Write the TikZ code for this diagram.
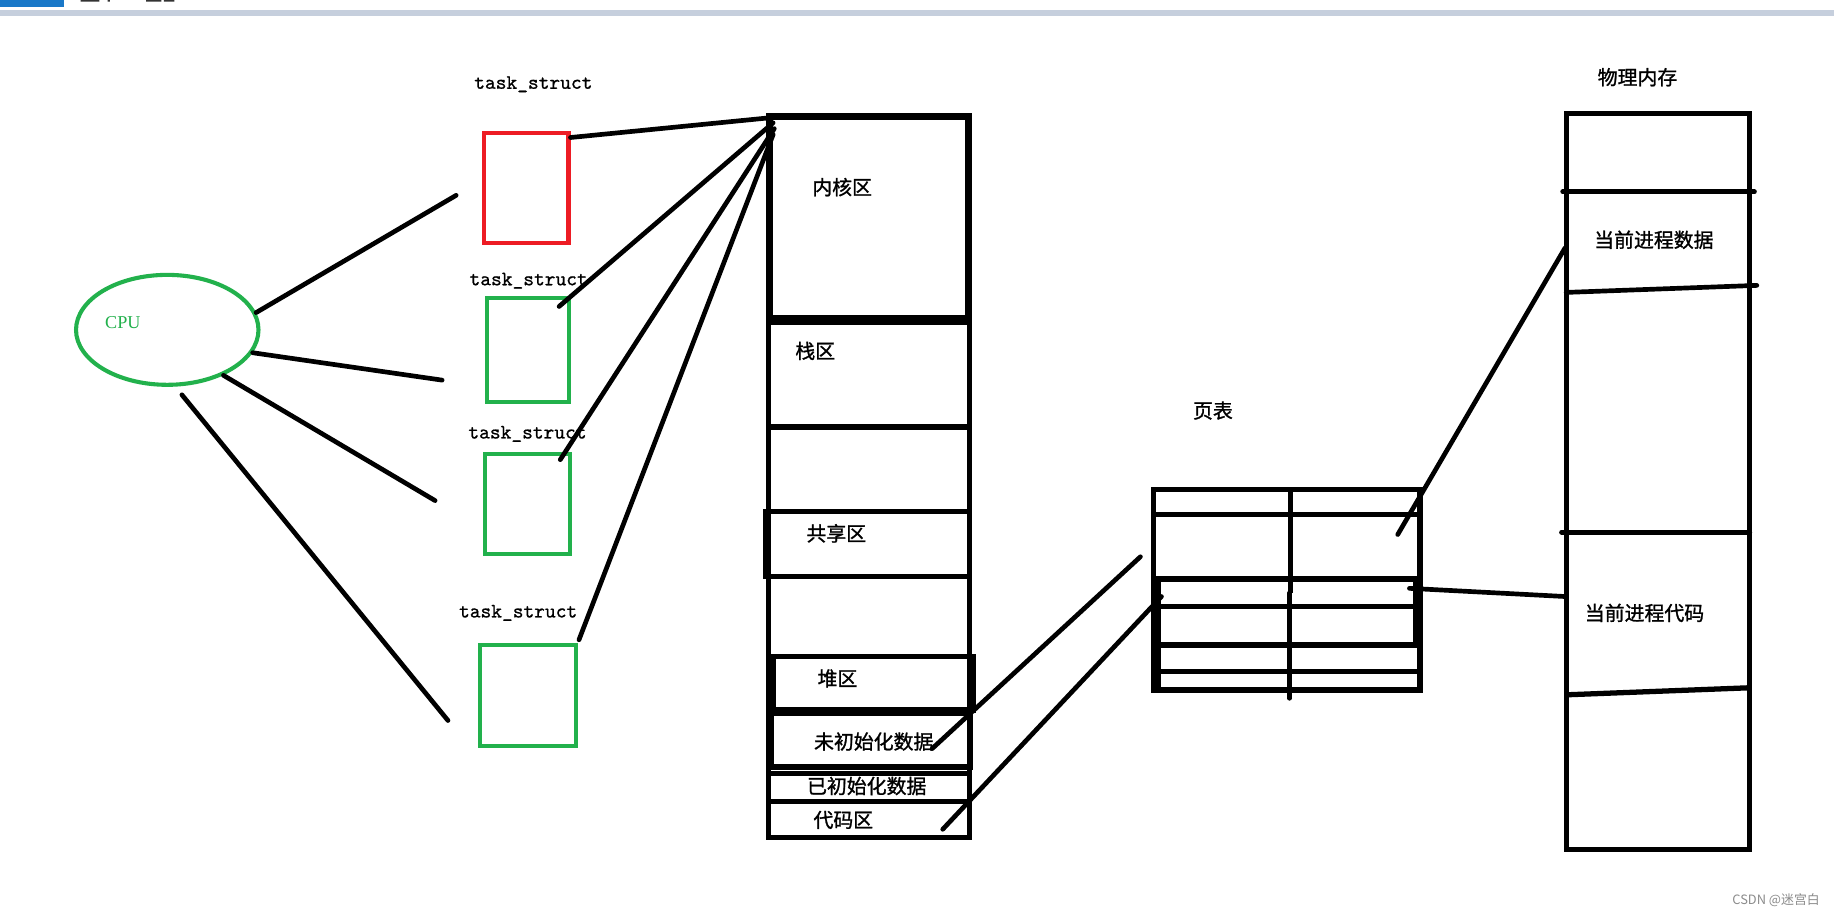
\documentclass[tikz,border=0pt]{standalone}
\usepackage{fontspec}
\usepackage{tikz}
\setmainfont{Liberation Serif}
\newfontfamily\cjk{Noto Sans CJK SC}
\newfontfamily\cjkheavy{Noto Sans CJK SC}[FakeBold=1.2]
\newfontfamily\tskfont{lmmono10-regular.otf}[FakeBold=0.8]
\usetikzlibrary{shapes.geometric}
\definecolor{paintgreen}{RGB}{34,177,76}
\definecolor{paintred}{RGB}{237,28,36}
\definecolor{topblue}{RGB}{26,120,200}
\definecolor{topgray}{RGB}{198,207,221}
\tikzset{>=stealth,
  stroke/.style={line width=4pt,line cap=round},
  wall/.style={line width=4.5pt},
  procbox/.style={draw=paintgreen,line width=3.5pt,inner sep=0pt},
  zh/.style={font=\cjkheavy\fontsize{17}{20}\selectfont,inner sep=0pt},
  tsk/.style={font=\tskfont\fontsize{17.5}{20}\selectfont,inner sep=0pt}}

\begin{document}
\begin{tikzpicture}[x=1pt,y=-1pt]
  \useasboundingbox (0,0) rectangle (1568,784);
  \fill[white] (0,0) rectangle (1568,784);
  % window bar
  \fill[topblue] (0,0) rectangle (55,6);
  \fill[topgray] (0,8.5) rectangle (1568,14);
  \fill[black!80] (69,0) rectangle (85,1.3) (92,0) rectangle (94,1.3)
    (125,0) rectangle (138,1.3) (140,0) rectangle (149,1.3);

  % cpu and the task_structs
  \node[ellipse,draw=paintgreen,line width=3.5pt,minimum width=156pt,minimum height=94pt,inner sep=0pt] (cpu) at (143,282) {};
  \node[text=paintgreen,font=\fontsize{15.5}{16}\selectfont,inner sep=0pt] (cpulbl) at (105,276) {CPU};
  \node[procbox,draw=paintred,minimum width=72pt,minimum height=94pt] (ts1) at (450,161) {};
  \node[procbox,minimum width=70pt,minimum height=89pt] (ts2) at (451.5,299) {};
  \node[procbox,minimum width=73pt,minimum height=85pt] (ts3) at (451,431) {};
  \node[procbox,minimum width=82pt,minimum height=86pt] (ts4) at (451.5,594.5) {};
  \node[tsk] (lbl1) at (456,72) {task\_struct};
  \node[tsk] (lbl2) at (452,240) {task\_struct};
  \node[tsk] (lbl3) at (451,371) {task\_struct};
  \node[tsk] (lbl4) at (443,524) {task\_struct};

  \coordinate (e1) at (390,167);
  \coordinate (e2) at (378,325);
  \coordinate (e3) at (372,428);
  \coordinate (e4) at (383,616);
  \draw[stroke] (cpu.11) -- (e1);
  \draw[stroke] (cpu.-15) -- (e2);
  \draw[stroke] (cpu.-39) -- (e3);
  \draw[stroke,shorten <=9pt] (cpu.-82) -- (e4);

  % address space
  \draw[wall] (657,99) rectangle (829,716);
  \draw[line width=5.5pt] (658,100) rectangle (828,272);
  \draw[line width=6pt] (657,275) -- (829,275);
  \draw[wall] (657,365) -- (829,365);
  \draw[wall] (655,437) rectangle (829,493);
  \fill (652,435) rectangle (658,495);
  \draw[wall] (661,561) rectangle (832,607);
  \draw[line width=5pt] (659,610) rectangle (829,656);
  \draw[wall] (657,661) -- (829,661);
  \draw[wall] (657,685) -- (829,685);
  \node[zh] (kern) at (720,160) {内核区};
  \node[zh] (stack) at (697,300) {栈区};
  \node[zh] (shared) at (715,456) {共享区};
  \node[zh] (heap) at (716,580) {堆区};
  \node[zh] (bss) at (747,634) {未初始化数据};
  \node[zh] (data) at (741,672) {已初始化数据};
  \node[zh] (text) at (721,701) {代码区};

  \coordinate (s2) at (478,262);
  \coordinate (s3) at (479,393);
  \coordinate (s4) at (495,547);
  \coordinate (k1) at (655,101);
  \coordinate (k2) at (661,105);
  \coordinate (k3) at (662,110);
  \coordinate (k4) at (661,115);
  \draw[stroke] (ts1.49) -- (k1);
  \draw[stroke] (s2) -- (k2);
  \draw[stroke] (s3) -- (k3);
  \draw[stroke] (s4) -- (k4);

  % page table
  \node[zh] (ptlbl) at (1037,351) {页表};
  \draw[wall] (986,418.5) rectangle (1214,590);
  \draw[wall] (986,440) -- (1214,440);
  \draw[wall] (990,495) rectangle (1210,551.5);
  \draw[wall] (990,518.5) -- (1210,518.5);
  \draw[wall] (990,551.5) -- (990,590);
  \draw[wall] (990,574) -- (1214,574);
  \draw[wall] (1103.5,418.5) -- (1103.5,507);
  \draw[stroke] (1102.5,507) -- (1102.5,597);

  % physical memory
  \node[zh] (physlbl) at (1400,66) {物理内存};
  \draw[wall] (1339,97) rectangle (1496,726);
  \draw[stroke] (1336,164) -- (1500,164);
  \draw[stroke] (1339,250) -- (1502,244);
  \draw[stroke] (1335,455) -- (1496,455);
  \draw[wall] (1340,594) -- (1496,588);
  \node[zh] (curdata) at (1414,205) {当前进程数据};
  \node[zh] (curcode) at (1406,524) {当前进程代码};

  \coordinate (v1) at (797,640);
  \coordinate (v2) at (806,709);
  \coordinate (p1) at (975,476);
  \coordinate (p2) at (993,510);
  \coordinate (q1) at (1195,457);
  \coordinate (q2) at (1205,503);
  \coordinate (m1) at (1338,212);
  \coordinate (m2) at (1338,510);
  \draw[stroke] (v1) -- (p1);
  \draw[stroke] (v2) -- (p2);
  \draw[stroke] (q1) -- (m1);
  \draw[stroke] (q2) -- (m2);

  \node[anchor=east,text=black!45,font=\cjk\fontsize{11}{12}\selectfont,inner sep=0pt] (mark) at (1556,770) {CSDN @迷宫白};
\end{tikzpicture}
\end{document}
